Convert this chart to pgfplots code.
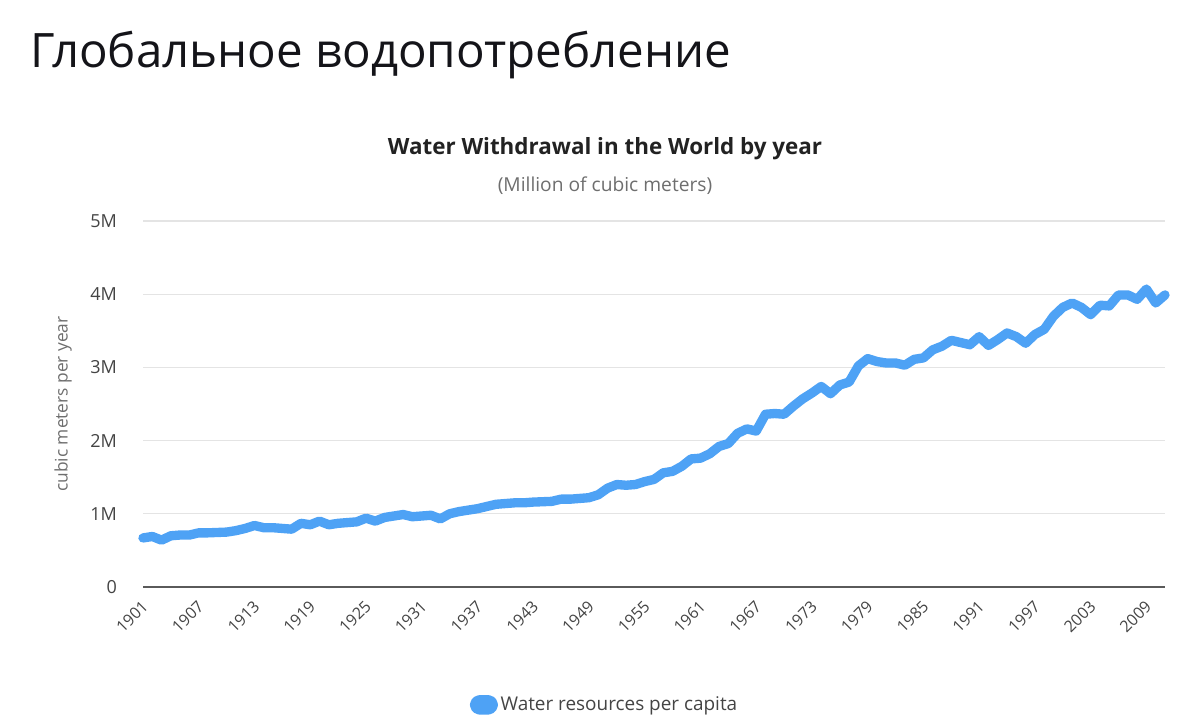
\documentclass[border=0pt]{standalone}
\usepackage{pgfplots}
\usepackage{pgfplotstable}
\pgfplotsset{compat=1.18}
\usepackage{fontspec}
\setmainfont{Open Sans}

\definecolor{linecol}{RGB}{78,162,245}
\definecolor{gridcol}{RGB}{228,228,228}
\definecolor{basecol}{RGB}{90,90,90}
\definecolor{ticktext}{RGB}{68,68,68}
\definecolor{labeltext}{RGB}{110,110,110}
\definecolor{titletext}{RGB}{34,34,34}
\definecolor{headtext}{RGB}{20,20,25}

% World water withdrawal, millions of cubic meters per year
\pgfplotstableread{
year value
1901 0.67
1902 0.69
1903 0.64
1904 0.70
1905 0.71
1906 0.71
1907 0.74
1908 0.74
1909 0.745
1910 0.75
1911 0.77
1912 0.80
1913 0.84
1914 0.81
1915 0.81
1916 0.80
1917 0.79
1918 0.87
1919 0.85
1920 0.90
1921 0.85
1922 0.87
1923 0.88
1924 0.89
1925 0.94
1926 0.90
1927 0.95
1928 0.97
1929 0.99
1930 0.96
1931 0.97
1932 0.98
1933 0.93
1934 1.00
1935 1.03
1936 1.05
1937 1.07
1938 1.10
1939 1.13
1940 1.14
1941 1.15
1942 1.15
1943 1.16
1944 1.165
1945 1.17
1946 1.20
1947 1.20
1948 1.21
1949 1.22
1950 1.26
1951 1.35
1952 1.40
1953 1.39
1954 1.40
1955 1.44
1956 1.47
1957 1.56
1958 1.58
1959 1.65
1960 1.75
1961 1.76
1962 1.82
1963 1.92
1964 1.96
1965 2.10
1966 2.16
1967 2.13
1968 2.36
1969 2.37
1970 2.36
1971 2.47
1972 2.57
1973 2.65
1974 2.74
1975 2.64
1976 2.76
1977 2.80
1978 3.02
1979 3.12
1980 3.08
1981 3.06
1982 3.06
1983 3.03
1984 3.11
1985 3.13
1986 3.24
1987 3.29
1988 3.37
1989 3.34
1990 3.31
1991 3.42
1992 3.30
1993 3.38
1994 3.47
1995 3.42
1996 3.33
1997 3.45
1998 3.52
1999 3.70
2000 3.82
2001 3.88
2002 3.82
2003 3.72
2004 3.85
2005 3.84
2006 3.99
2007 3.99
2008 3.93
2009 4.07
2010 3.88
2011 3.99
}\withdrawal

\begin{document}
\begin{tikzpicture}
% page frame and headings, in pixel-like units (1 unit = 0.75pt, y downwards)
\begin{scope}[x=0.75pt,y=-0.75pt]
  \useasboundingbox (0,0) rectangle (1200,723);
  \node[anchor=base west, inner sep=0pt, text=headtext,
        font=\fontsize{35.6}{40}\selectfont] at (30,68) {Глобальное водопотребление};
  \node[anchor=base, inner sep=0pt, text=titletext,
        font=\bfseries\fontsize{16.8}{20}\selectfont] at (605,155) {Water Withdrawal in the World by year};
  \node[anchor=base, inner sep=0pt, text=labeltext,
        font=\fontsize{14.4}{17}\selectfont] at (605,192) {(Million of cubic meters)};
\end{scope}

\begin{axis}[
  at={(107.25pt,-440.25pt)}, anchor=south west,
  scale only axis, width=766.5pt, height=274.5pt,
  xmin=1901, xmax=2011, ymin=0, ymax=5,
  clip=false,
  axis x line*=bottom, axis y line*=left,
  x axis line style={draw=basecol, line width=1.4pt, -},
  y axis line style={draw=none},
  major tick length=0pt,
  xtick={1901,1907,...,2009},
  ytick={0,1,2,3,4,5},
  yticklabels={0,1M,2M,3M,4M,5M},
  ymajorgrids, grid style={gridcol, line width=1pt},
  /pgf/number format/1000 sep={},
  /pgf/number format/assume math mode=true,
  yticklabel style={font=\fontsize{13.5}{15}\selectfont, text=ticktext, xshift=-16pt},
  xticklabel style={font=\fontsize{12}{14}\selectfont, text=ticktext,
                    anchor=east, xshift=4pt, yshift=-10pt, rotate=45},
  ylabel={cubic meters per year},
  every axis y label/.style={at={(rel axis cs:0,0.5)}, anchor=center,
                             xshift=-60pt, rotate=90, font=\fontsize{13}{15}\selectfont, text=labeltext},
  legend style={at={(0.452,-0.322)}, anchor=center, draw=none, fill=none,
                font=\fontsize{14.2}{17}\selectfont, text=ticktext},
  legend image code/.code={\fill[linecol, rounded corners=3.6pt] (0pt,-3.8pt) rectangle (14pt,3.8pt);},
]
\addplot[linecol, line width=7pt, line join=round, line cap=round]
  table[x=year, y=value] {\withdrawal};
\addlegendentry{Water resources per capita}
\end{axis}
\end{tikzpicture}
\end{document}
